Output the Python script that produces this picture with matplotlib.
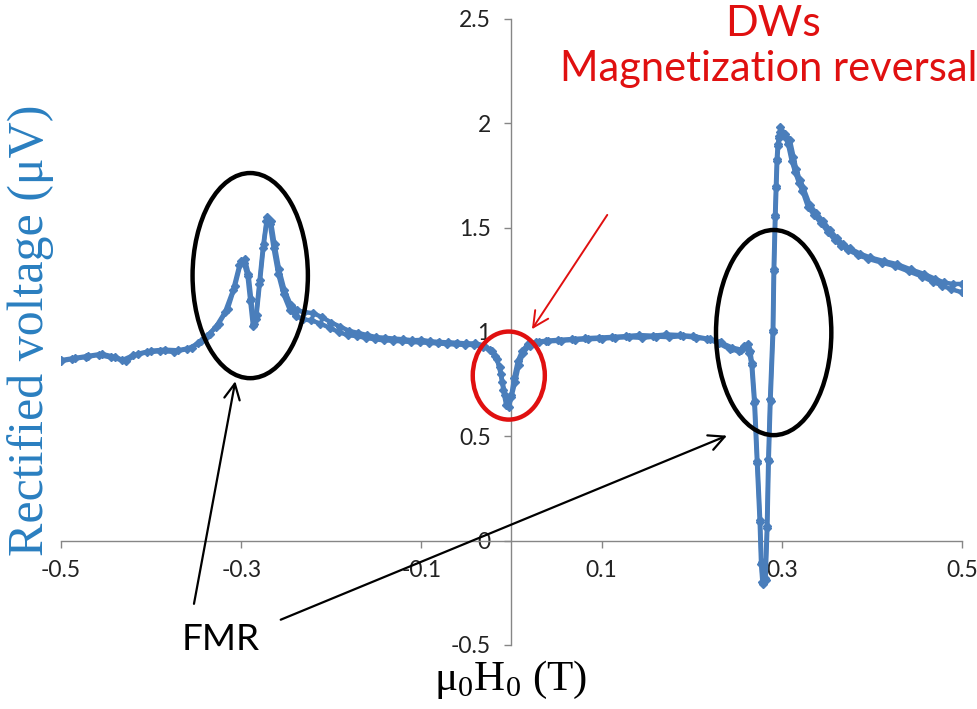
import matplotlib.pyplot as plt
from matplotlib.patches import Ellipse

# sweep 1 (field, T) and rectified voltage (uV)
field_up = [-0.500, -0.485, -0.470, -0.455, -0.440, -0.428, -0.415, -0.400, -0.385, -0.370,
            -0.355, -0.345, -0.335, -0.325, -0.315, -0.307, -0.300, -0.296, -0.292, -0.289,
            -0.286, -0.283, -0.279, -0.275, -0.271, -0.267, -0.263, -0.258, -0.252, -0.245,
            -0.238, -0.230, -0.220, -0.210, -0.200, -0.190, -0.180, -0.170, -0.160, -0.150,
            -0.140, -0.130, -0.120, -0.110, -0.100, -0.090, -0.080, -0.070, -0.060, -0.050,
            -0.040, -0.030, -0.022, -0.016, -0.012, -0.009, -0.006, -0.003, 0.000, 0.004,
            0.008, 0.013, 0.020, 0.030, 0.040, 0.055, 0.070, 0.085, 0.100, 0.115,
            0.130, 0.145, 0.160, 0.175, 0.190, 0.205, 0.220, 0.232, 0.245, 0.255,
            0.258, 0.262, 0.265, 0.267, 0.270, 0.273, 0.276, 0.2775, 0.279, 0.282,
            0.284, 0.2855, 0.2875, 0.2905, 0.2915, 0.293, 0.294, 0.295, 0.296, 0.297,
            0.2985, 0.300, 0.304, 0.309, 0.313, 0.316, 0.320, 0.324, 0.331, 0.338,
            0.346, 0.353, 0.361, 0.368, 0.376, 0.387, 0.398, 0.413, 0.428, 0.443,
            0.458, 0.470, 0.480, 0.490, 0.500]
volt_up = [0.865, 0.875, 0.885, 0.895, 0.880, 0.860, 0.895, 0.910, 0.915, 0.912,
           0.925, 0.955, 0.990, 1.040, 1.110, 1.220, 1.340, 1.350, 1.280, 1.160,
           1.040, 1.080, 1.250, 1.420, 1.550, 1.530, 1.420, 1.300, 1.200, 1.130,
           1.105, 1.095, 1.090, 1.070, 1.045, 1.025, 1.005, 0.995, 0.985, 0.975,
           0.972, 0.968, 0.965, 0.960, 0.962, 0.955, 0.952, 0.950, 0.948, 0.945,
           0.945, 0.935, 0.910, 0.870, 0.800, 0.720, 0.650, 0.640, 0.690, 0.760,
           0.840, 0.900, 0.935, 0.950, 0.955, 0.958, 0.962, 0.965, 0.968, 0.972,
           0.975, 0.972, 0.978, 0.975, 0.980, 0.972, 0.965, 0.950, 0.925, 0.915,
           0.935, 0.940, 0.910, 0.850, 0.670, 0.380, 0.100, -0.100, -0.210, -0.190,
           0.060, 0.380, 0.670, 1.000, 1.290, 1.550, 1.690, 1.820, 1.890, 1.940,
           1.980, 1.960, 1.950, 1.920, 1.840, 1.780, 1.730, 1.690, 1.610, 1.570,
           1.530, 1.490, 1.450, 1.420, 1.400, 1.375, 1.357, 1.340, 1.325, 1.300,
           1.278, 1.255, 1.237, 1.230, 1.230]

# sweep 2 (return sweep)
field_down = [-0.500, -0.488, -0.472, -0.458, -0.445, -0.432, -0.420, -0.405, -0.390, -0.375,
              -0.360, -0.348, -0.338, -0.328, -0.318, -0.309, -0.302, -0.297, -0.293, -0.290,
              -0.287, -0.284, -0.280, -0.276, -0.272, -0.268, -0.264, -0.259, -0.253, -0.246,
              -0.239, -0.231, -0.222, -0.212, -0.202, -0.192, -0.182, -0.172, -0.162, -0.152,
              -0.142, -0.132, -0.122, -0.112, -0.102, -0.092, -0.082, -0.072, -0.062, -0.052,
              -0.042, -0.032, -0.024, -0.018, -0.013, -0.010, -0.007, -0.004, 0.000, 0.003,
              0.007, 0.012, 0.018, 0.027, 0.038, 0.052, 0.067, 0.082, 0.097, 0.112,
              0.127, 0.142, 0.157, 0.172, 0.187, 0.202, 0.217, 0.230, 0.242, 0.252,
              0.257, 0.261, 0.264, 0.2665, 0.2695, 0.2725, 0.2755, 0.277, 0.2785, 0.2815,
              0.2835, 0.285, 0.287, 0.290, 0.291, 0.2925, 0.2935, 0.2945, 0.2955, 0.297,
              0.298, 0.299, 0.303, 0.307, 0.311, 0.315, 0.319, 0.323, 0.329, 0.336,
              0.344, 0.351, 0.359, 0.366, 0.374, 0.385, 0.396, 0.411, 0.426, 0.441,
              0.456, 0.468, 0.478, 0.488, 0.500]
volt_down = [0.860, 0.870, 0.880, 0.890, 0.878, 0.865, 0.888, 0.902, 0.908, 0.905,
             0.918, 0.945, 0.980, 1.025, 1.095, 1.200, 1.320, 1.330, 1.270, 1.150,
             1.030, 1.060, 1.230, 1.400, 1.530, 1.515, 1.400, 1.280, 1.180, 1.105,
             1.075, 1.060, 1.055, 1.040, 1.020, 1.000, 0.985, 0.980, 0.972, 0.965,
             0.960, 0.958, 0.955, 0.952, 0.950, 0.948, 0.945, 0.942, 0.940, 0.938,
             0.938, 0.930, 0.915, 0.885, 0.830, 0.760, 0.700, 0.680, 0.700, 0.780,
             0.860, 0.910, 0.940, 0.952, 0.958, 0.962, 0.966, 0.970, 0.973, 0.976,
             0.980, 0.985, 0.982, 0.988, 0.985, 0.980, 0.968, 0.945, 0.918, 0.908,
             0.925, 0.930, 0.900, 0.840, 0.660, 0.370, 0.090, -0.110, -0.200, -0.180,
             0.070, 0.390, 0.680, 1.010, 1.300, 1.560, 1.700, 1.830, 1.900, 1.930,
             1.960, 1.955, 1.940, 1.900, 1.820, 1.765, 1.715, 1.675, 1.600, 1.560,
             1.520, 1.480, 1.440, 1.412, 1.392, 1.368, 1.350, 1.332, 1.315, 1.290,
             1.265, 1.240, 1.222, 1.205, 1.190]

xticks = [-0.5, -0.3, -0.1, 0.1, 0.3, 0.5]
yticks = [-0.5, 0, 0.5, 1, 1.5, 2, 2.5]
ytick_labels = ['-0.5', '0', '0.5', '1', '1.5', '2', '2.5']

line_blue = '#4a7ebb'
axis_grey = '#868686'
sans = ['Lato', 'DejaVu Sans']
serif = ['Liberation Serif', 'DejaVu Serif']

plt.rcParams['mathtext.fontset'] = 'custom'
plt.rcParams['mathtext.rm'] = 'Liberation Serif'

fig = plt.figure(figsize=(9.78, 7.09), dpi=100)
ax = fig.add_axes([0.0624, 0.0903, 0.9212, 0.883])

ax.plot(field_up, volt_up, color=line_blue, lw=3.2, marker='D', ms=4, zorder=3)
ax.plot(field_down, volt_down, color=line_blue, lw=3.2, marker='D', ms=4, zorder=3)

ax.set_xlim(-0.5, 0.5)
ax.set_ylim(-0.5, 2.5)

# excel style axes crossing at zero
ax.spines['left'].set_position(('data', 0))
ax.spines['bottom'].set_position(('data', 0))
ax.spines['top'].set_visible(False)
ax.spines['right'].set_visible(False)
for s in ['left', 'bottom']:
    ax.spines[s].set_color(axis_grey)
    ax.spines[s].set_linewidth(1)

ax.set_xticks(xticks)
ax.set_xticklabels([str(t) for t in xticks], fontfamily=sans, fontsize=16.5, color='#222222')
ax.set_yticks(yticks)
ax.set_yticklabels(ytick_labels, fontfamily=sans, fontsize=16.5, color='#222222')
ax.tick_params(axis='x', direction='out', length=5, width=1, color=axis_grey, pad=9)
ax.tick_params(axis='y', direction='out', length=5, width=1, color=axis_grey, pad=10)

# axis titles
fig.text(0.031, 1 - 330 / 709, 'Rectified voltage (μV)', rotation=90, ha='center', va='center',
         fontfamily=serif, fontsize=36, color='#2a7fc0')
fig.text(511 / 978, 1 - 680 / 709, 'μ$_0$H$_0$ (T)', ha='center', va='center',
         fontfamily=serif, fontsize=31, color='black')

# circles around the features
ax.add_patch(Ellipse((-0.290, 1.270), 0.128, 0.983, fill=False, ec='black', lw=3.2, zorder=4, clip_on=False))
ax.add_patch(Ellipse((0.291, 0.997), 0.128, 0.983, fill=False, ec='black', lw=3.2, zorder=4, clip_on=False))
ax.add_patch(Ellipse((-0.003, 0.791), 0.080, 0.422, fill=False, ec='#e01010', lw=3.2, zorder=4, clip_on=False))

# labels and arrows
ax.text(-0.323, -0.475, 'FMR', ha='center', va='center', fontfamily=sans, fontsize=26.5, color='black')
ax.annotate('', xy=(-0.306, 0.777), xytext=(-0.353, -0.316),
            arrowprops=dict(arrowstyle='->', color='black', lw=1.6, mutation_scale=28))
ax.annotate('', xy=(0.242, 0.508), xytext=(-0.259, -0.384),
            arrowprops=dict(arrowstyle='->', color='black', lw=1.6, mutation_scale=28))

ax.text(0.290, 2.478, 'DWs', ha='center', va='center', fontfamily=sans, fontsize=31, color='#e01010')
ax.text(0.285, 2.258, 'Magnetization reversal', ha='center', va='center', fontfamily=sans,
        fontsize=30, color='#e01010')
ax.annotate('', xy=(0.021, 1.002), xytext=(0.108, 1.572),
            arrowprops=dict(arrowstyle='->', color='#e01010', lw=1.4, mutation_scale=28))

plt.savefig('out.png', dpi=100)
